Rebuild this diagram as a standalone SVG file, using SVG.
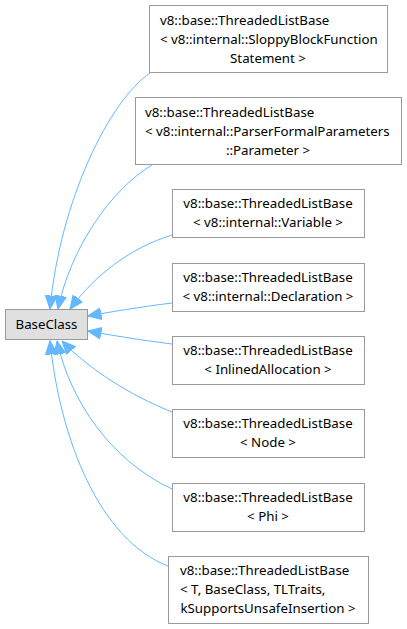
<svg xmlns="http://www.w3.org/2000/svg" width="407" height="629" viewBox="0 0 407 629">
<style>
.n{fill:#ffffff;stroke:#999999;stroke-width:1}
.b{fill:#e0e0e0;stroke:#999999;stroke-width:1}
text{font-family:"Noto Sans","Open Sans",sans-serif;font-size:13.3px;fill:#000000}
.c{text-anchor:middle}
.e{fill:none;stroke:#63b8ff;stroke-width:1;marker-end:url(#ah)}
</style>
<defs>
<marker id="ah" markerUnits="userSpaceOnUse" markerWidth="14" markerHeight="14" viewBox="0 -6 12 12" refX="11.5" refY="0" orient="auto">
<path d="M0,-5 L11.5,0 L0,5 Z" fill="#63b8ff" stroke="#63b8ff" stroke-width="1"/>
</marker>
</defs>
<rect width="407" height="629" fill="#ffffff"/>
<g id="edges">
<path class="e" d="M150,73 C110,100 60,200 50,309"/>
<path class="e" d="M152,165 C110,190 70,250 58,309"/>
<path class="e" d="M172,235 C130,248 95,275 70,309"/>
<path class="e" d="M172,303 C140,307 110,312 88,316"/>
<path class="e" d="M172,344 C140,340 110,335 88,331"/>
<path class="e" d="M172,412 C130,395 90,370 62,341"/>
<path class="e" d="M172,489 C110,460 70,400 57,341"/>
<path class="e" d="M168,566 C100,540 60,440 50,341"/>
</g>
<g id="BaseClass">
<rect class="b" x="5.5" y="309.5" width="82" height="30"/>
<text class="c" x="46.5" y="329">BaseClass</text>
</g>
<g id="n1">
<rect class="n" x="149.5" y="5.5" width="238" height="67"/>
<text x="160" y="24.5">v8::base::ThreadedListBase</text>
<text x="160" y="43.5">&lt; v8::internal::SloppyBlockFunction</text>
<text class="c" x="268" y="62.5">Statement &gt;</text>
</g>
<g id="n2">
<rect class="n" x="135.5" y="97.5" width="266" height="67"/>
<text x="145" y="116.5">v8::base::ThreadedListBase</text>
<text x="145" y="135.5">&lt; v8::internal::ParserFormalParameters</text>
<text class="c" x="268" y="154.5">::Parameter &gt;</text>
</g>
<g id="n3">
<rect class="n" x="172.5" y="189.5" width="192" height="48"/>
<text class="c" x="268" y="208">v8::base::ThreadedListBase</text>
<text class="c" x="268" y="227">&lt; v8::internal::Variable &gt;</text>
</g>
<g id="n4">
<rect class="n" x="172.5" y="263.5" width="192" height="48"/>
<text class="c" x="268" y="282">v8::base::ThreadedListBase</text>
<text class="c" x="268" y="301">&lt; v8::internal::Declaration &gt;</text>
</g>
<g id="n5">
<rect class="n" x="172.5" y="336.5" width="192" height="48"/>
<text class="c" x="268" y="355">v8::base::ThreadedListBase</text>
<text class="c" x="268" y="374">&lt; InlinedAllocation &gt;</text>
</g>
<g id="n6">
<rect class="n" x="172.5" y="409.5" width="192" height="48"/>
<text class="c" x="268" y="428">v8::base::ThreadedListBase</text>
<text class="c" x="268" y="447">&lt; Node &gt;</text>
</g>
<g id="n7">
<rect class="n" x="172.5" y="483.5" width="192" height="48"/>
<text class="c" x="268" y="502">v8::base::ThreadedListBase</text>
<text class="c" x="268" y="521">&lt; Phi &gt;</text>
</g>
<g id="n8">
<rect class="n" x="168.5" y="556.5" width="200" height="67"/>
<text x="180" y="575">v8::base::ThreadedListBase</text>
<text x="180" y="594">&lt; T, BaseClass, TLTraits,</text>
<text class="c" x="268" y="613">kSupportsUnsafeInsertion &gt;</text>
</g>
</svg>
